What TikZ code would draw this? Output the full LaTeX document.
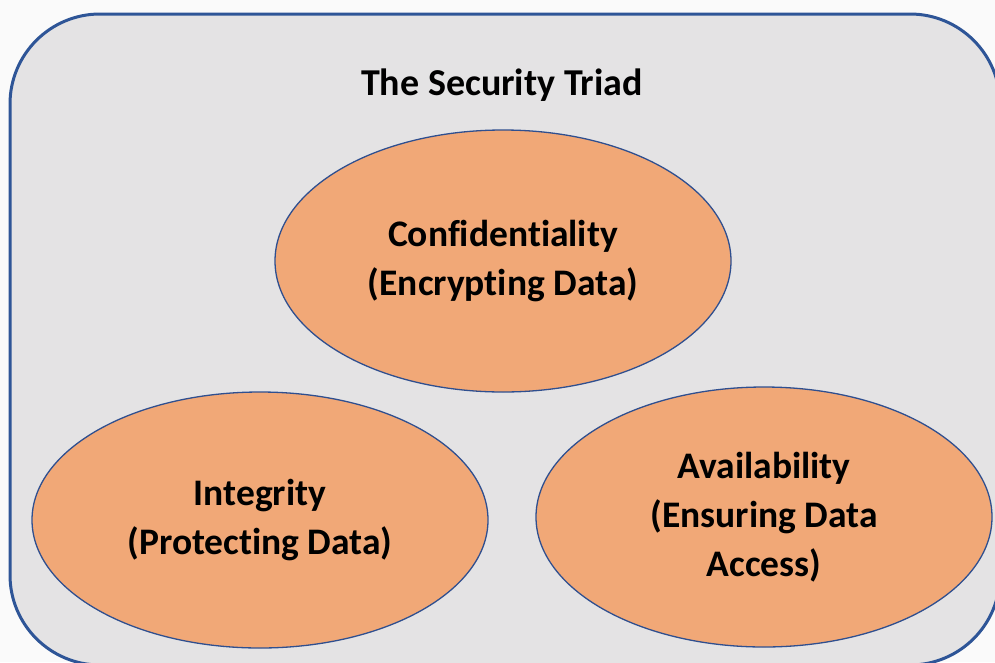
\documentclass[tikz,border=0pt]{standalone}
\usepackage{fontspec}
\setmainfont{Carlito}[Ligatures={NoCommon}]
\usetikzlibrary{shapes.geometric}
\definecolor{panelfill}{HTML}{E4E3E4}
\definecolor{panelline}{HTML}{2E5597}
\definecolor{ovalfill}{HTML}{F1A877}
\definecolor{ovalline}{HTML}{2F4F8F}
\definecolor{pagebg}{HTML}{FAFAFA}
\tikzset{
  oval/.style={ellipse, draw=ovalline, line width=1.3pt, fill=ovalfill, inner sep=0pt,
    minimum width=456pt, minimum height=260pt, align=center,
    font=\bfseries\fontsize{37.5}{49}\selectfont, text=black},
  titletext/.style={font=\bfseries\fontsize{38}{44}\selectfont, text=black, inner sep=0pt},
  panel/.style={draw=panelline, line width=3pt, fill=panelfill, rounded corners=90pt}
}
\begin{document}
\begin{tikzpicture}[x=1pt,y=-1pt]
\useasboundingbox (0,0) rectangle (995,662);
\fill[pagebg] (0,0) rectangle (995,662);
\draw[panel] (10,14) rectangle (1000,665);
\node[titletext, anchor=base] (title) at (502,95) {The Security Triad};
\node[oval, minimum height=262pt] (conf) at (503,261) {Confidentiality\\(Encrypting Data)};
\node[oval, minimum height=256pt] (integ) at (260,520) {Integrity\\(Protecting Data)};
\node[oval] (avail) at (764,517) {Availability\\(Ensuring Data\\Access)};
\end{tikzpicture}
\end{document}
